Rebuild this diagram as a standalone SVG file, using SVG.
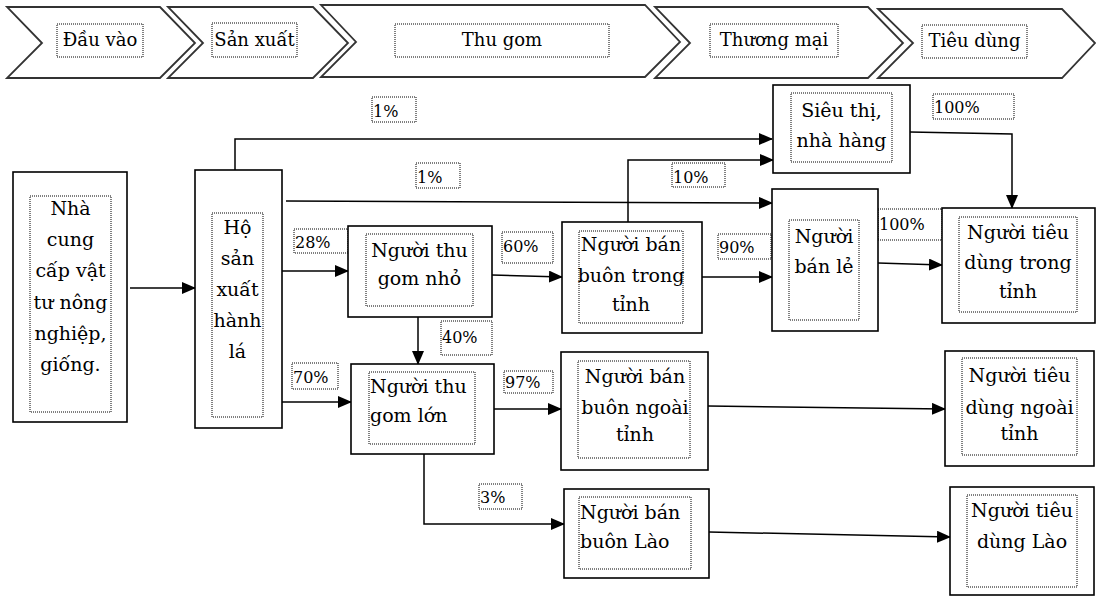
<svg xmlns="http://www.w3.org/2000/svg" width="1099" height="597" viewBox="0 0 1099 597">
<defs>
<marker id="arr" markerWidth="14" markerHeight="12" refX="13" refY="6" orient="auto" markerUnits="userSpaceOnUse">
<path d="M0,0 L14,6 L0,12 Z" fill="#000"/>
</marker>
<style>
.chev{fill:#fff;stroke:#333;stroke-width:1.8;stroke-linejoin:miter}
.box{fill:#fff;stroke:#000;stroke-width:1.6}
.dot{fill:none;stroke:#000;stroke-width:1;stroke-dasharray:1,1}
.t{font-family:"DejaVu Serif","Liberation Serif",serif;font-size:19px;fill:#000}
.m{text-anchor:middle}
.h{font-family:"DejaVu Serif","Liberation Serif",serif;font-size:18px;fill:#000;text-anchor:middle}
.p{font-family:"DejaVu Serif","Liberation Serif",serif;font-size:16px;fill:#000}
.c{fill:none;stroke:#000;stroke-width:1.5}
</style>
</defs>
<rect width="1099" height="597" fill="#fff"/>

<g id="header">
<g id="h1"><polygon class="chev" points="7,7 160,7 195,43 160,78 7,78 42,43"/><rect class="dot" x="57" y="24" width="86" height="33"/><text class="h" x="100" y="46">Đầu vào</text></g>
<g id="h2"><polygon class="chev" points="168,7 313,7 348,43 313,78 168,78 203,43"/><rect class="dot" x="212" y="23" width="85" height="34"/><text class="h" x="254.5" y="46">Sản xuất</text></g>
<g id="h3"><polygon class="chev" points="321,5 645,5 680,42 645,77 321,77 356,42"/><rect class="dot" x="395" y="24" width="214" height="33"/><text class="h" x="502" y="46">Thu gom</text></g>
<g id="h4"><polygon class="chev" points="655,7 868,7 903,43 868,78 655,78 690,43"/><rect class="dot" x="710" y="24" width="128" height="33"/><text class="h" x="774" y="46">Thương mại</text></g>
<g id="h5"><polygon class="chev" points="878,9 1062,9 1095,43 1062,78 878,78 913,43"/><rect class="dot" x="922" y="25" width="105" height="33"/><text class="h" x="974.5" y="47">Tiêu dùng</text></g>
</g>

<g id="connectors">
<path class="c" d="M130,288 H195" marker-end="url(#arr)"/>
<path class="c" d="M235,170 V139 H772" marker-end="url(#arr)"/>
<path class="c" d="M286,201 L772,203" marker-end="url(#arr)"/>
<path class="c" d="M282,271 H348" marker-end="url(#arr)"/>
<path class="c" d="M282,402 H351" marker-end="url(#arr)"/>
<path class="c" d="M492,275 L562,277" marker-end="url(#arr)"/>
<path class="c" d="M418,317 V364" marker-end="url(#arr)"/>
<path class="c" d="M628,222 V160 H773" marker-end="url(#arr)"/>
<path class="c" d="M702,277 H772" marker-end="url(#arr)"/>
<path class="c" d="M910,132 L1012,134 V208" marker-end="url(#arr)"/>
<path class="c" d="M878,263 L942,265" marker-end="url(#arr)"/>
<path class="c" d="M494,409 H561" marker-end="url(#arr)"/>
<path class="c" d="M424,454 V524 H564" marker-end="url(#arr)"/>
<path class="c" d="M708,406 L945,409" marker-end="url(#arr)"/>
<path class="c" d="M709,532 L950,537" marker-end="url(#arr)"/>
</g>

<g id="labels">
<g id="l1a"><rect class="dot" x="372" y="97" width="44" height="25"/><text class="p" x="373" y="117">1%</text></g>
<g id="l1b"><rect class="dot" x="416" y="163" width="44" height="25"/><text class="p" x="417" y="183">1%</text></g>
<g id="l28"><rect class="dot" x="294" y="229" width="54" height="24"/><text class="p" x="295" y="248">28%</text></g>
<g id="l60"><rect class="dot" x="502" y="232" width="51" height="31"/><text class="p" x="503" y="252">60%</text></g>
<g id="l10"><rect class="dot" x="672" y="163" width="53" height="24"/><text class="p" x="673" y="183">10%</text></g>
<g id="l100a"><rect class="dot" x="933" y="94" width="81" height="25"/><text class="p" x="934" y="113">100%</text></g>
<g id="l100b"><rect class="dot" x="878" y="209" width="64" height="31"/><text class="p" x="879" y="230">100%</text></g>
<g id="l90"><rect class="dot" x="718" y="234" width="53" height="25"/><text class="p" x="719" y="253">90%</text></g>
<g id="l40"><rect class="dot" x="441" y="321" width="51" height="34"/><text class="p" x="442" y="343">40%</text></g>
<g id="l70"><rect class="dot" x="292" y="363" width="46" height="26"/><text class="p" x="293" y="383">70%</text></g>
<g id="l97"><rect class="dot" x="504" y="371" width="49" height="22"/><text class="p" x="505" y="388">97%</text></g>
<g id="l3"><rect class="dot" x="479" y="484" width="43" height="25"/><text class="p" x="480" y="503">3%</text></g>
</g>

<g id="n-nhacungcap">
<rect class="box" x="13" y="172" width="114" height="250"/>
<rect class="dot" x="30" y="196" width="81" height="216"/>
<text class="t m" x="70.5" y="215">Nhà</text>
<text class="t m" x="70.5" y="246">cung</text>
<text class="t m" x="70.5" y="277">cấp vật</text>
<text class="t m" x="70.5" y="309">tư nông</text>
<text class="t m" x="70.5" y="340">nghiệp,</text>
<text class="t m" x="70.5" y="371">giống.</text>
</g>

<g id="n-hosanxuat">
<rect class="box" x="195" y="170" width="87" height="258"/>
<rect class="dot" x="212" y="213" width="51" height="204"/>
<text class="t m" x="237.5" y="234">Hộ</text>
<text class="t m" x="237.5" y="265">sản</text>
<text class="t m" x="237.5" y="296">xuất</text>
<text class="t m" x="237.5" y="327">hành</text>
<text class="t m" x="237.5" y="358">lá</text>
</g>

<g id="n-thugomnho">
<rect class="box" x="348" y="226" width="144" height="91"/>
<rect class="dot" x="366" y="234" width="107" height="72"/>
<text class="t m" x="419.5" y="257">Người thu</text>
<text class="t m" x="419.5" y="285">gom nhỏ</text>
</g>

<g id="n-banbuontrongtinh">
<rect class="box" x="562" y="222" width="140" height="111"/>
<rect class="dot" x="579" y="231" width="104" height="92"/>
<text class="t m" x="631" y="251">Người bán</text>
<text class="t m" x="631" y="282">buôn trong</text>
<text class="t m" x="631" y="311">tỉnh</text>
</g>

<g id="n-sieuthi">
<rect class="box" x="773" y="85" width="137" height="88"/>
<rect class="dot" x="791" y="93" width="101" height="69"/>
<text class="t m" x="841.5" y="117">Siêu thị,</text>
<text class="t m" x="841.5" y="147">nhà hàng</text>
</g>

<g id="n-banle">
<rect class="box" x="772" y="189" width="106" height="142"/>
<rect class="dot" x="789" y="220" width="70" height="100"/>
<text class="t m" x="824" y="243">Người</text>
<text class="t m" x="824" y="273">bán lẻ</text>
</g>

<g id="n-tieudungtrongtinh">
<rect class="box" x="942" y="208" width="153" height="115"/>
<rect class="dot" x="959" y="217" width="118" height="95"/>
<text class="t m" x="1018" y="239">Người tiêu</text>
<text class="t m" x="1018" y="269">dùng trong</text>
<text class="t m" x="1018" y="298">tỉnh</text>
</g>

<g id="n-thugomlon">
<rect class="box" x="351" y="364" width="143" height="90"/>
<rect class="dot" x="369" y="372" width="106" height="72"/>
<text class="t" x="370" y="393">Người thu</text>
<text class="t" x="370" y="422">gom lớn</text>
</g>

<g id="n-banbuonngoaitinh">
<rect class="box" x="561" y="352" width="147" height="118"/>
<rect class="dot" x="578" y="361" width="112" height="97"/>
<text class="t m" x="635" y="383">Người bán</text>
<text class="t m" x="635" y="414">buôn ngoài</text>
<text class="t m" x="635" y="441">tỉnh</text>
</g>

<g id="n-tieudungngoaitinh">
<rect class="box" x="945" y="351" width="149" height="115"/>
<rect class="dot" x="962" y="358" width="115" height="97"/>
<text class="t m" x="1019.5" y="382">Người tiêu</text>
<text class="t m" x="1019.5" y="414">dùng ngoài</text>
<text class="t m" x="1019.5" y="440">tỉnh</text>
</g>

<g id="n-banbuonlao">
<rect class="box" x="564" y="489" width="145" height="89"/>
<rect class="dot" x="579" y="497" width="112" height="72"/>
<text class="t" x="580" y="519">Người bán</text>
<text class="t" x="580" y="548">buôn Lào</text>
</g>

<g id="n-tieudunglao">
<rect class="box" x="950" y="487" width="144" height="108"/>
<rect class="dot" x="967" y="495" width="110" height="92"/>
<text class="t m" x="1022" y="517">Người tiêu</text>
<text class="t m" x="1022" y="548">dùng Lào</text>
</g>
</svg>
